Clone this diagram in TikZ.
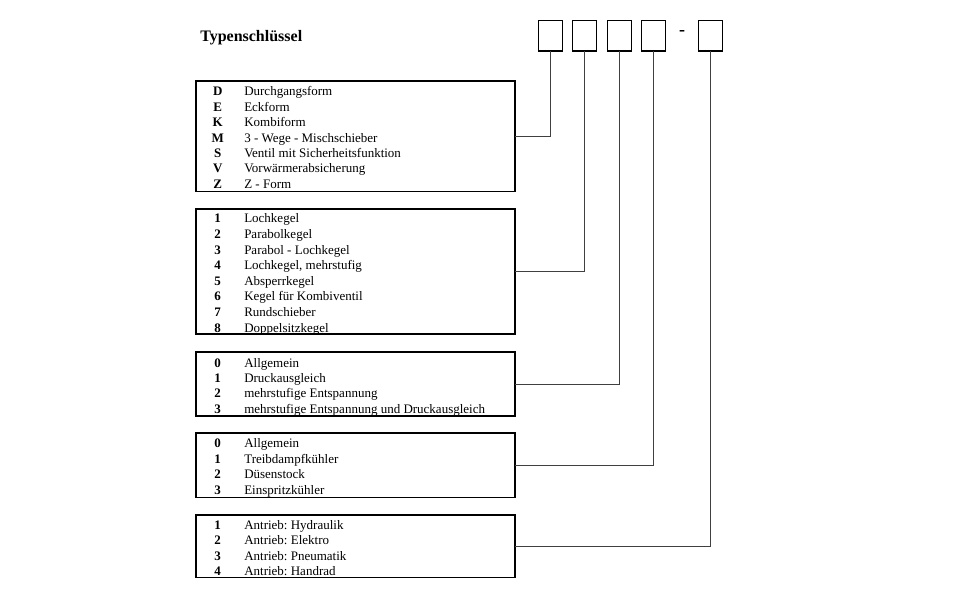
\documentclass[tikz,border=0pt]{standalone}
\usepackage{fontspec}
\setmainfont{Liberation Serif}
\frenchspacing
\begin{document}
\begin{tikzpicture}[x=0.75pt,y=-0.75pt,
  listbox/.style={draw=black,line width=1pt,inner sep=0pt,outer sep=0pt,minimum width={319*0.75pt}},
  codebox/.style={draw=black,line width=1pt,inner sep=0pt,outer sep=0pt,minimum width={24*0.75pt},minimum height={30.5*0.75pt}},
  keytxt/.style={anchor=base,inner sep=0pt,font=\fontsize{9.75pt}{11pt}\selectfont\bfseries},
  itemtxt/.style={anchor=base west,inner sep=0pt,font=\fontsize{9.75pt}{11pt}\selectfont},
  link/.style={draw=black!75,line width=0.6pt}]
\useasboundingbox[fill=white] (0,0) rectangle (960,596);

\node[anchor=base west,inner sep=0pt,font=\fontsize{12pt}{14pt}\selectfont\bfseries] (title) at (200,41) {Typenschlüssel};

% code boxes
\node[codebox] (c1) at (550.5,35.75) {};
\node[codebox] (c2) at (584.7,35.75) {};
\node[codebox] (c3) at (619.3,35.75) {};
\node[codebox] (c4) at (653.5,35.75) {};
\node[anchor=base,inner sep=0pt,font=\fontsize{13.5pt}{15pt}\selectfont\bfseries] (dash) at (682,36) {-};
\node[codebox] (c5) at (710.5,35.75) {};

% list boxes
\node[listbox,minimum height={110.7*0.75pt}] (b1) at (355.5,136.4) {};
\node[listbox,minimum height={125*0.75pt}] (b2) at (355.5,271.5) {};
\node[listbox,minimum height={64*0.75pt}] (b3) at (355.5,384) {};
\node[listbox,minimum height={64.7*0.75pt}] (b4) at (355.5,465.4) {};
\node[listbox,minimum height={62.7*0.75pt}] (b5) at (355.5,546.4) {};

% entries
\foreach [count=\i] \k/\t in {D/Durchgangsform,E/Eckform,K/Kombiform,M/3 - Wege - Mischschieber,S/Ventil mit Sicherheitsfunktion,V/Vorwärmerabsicherung,Z/Z - Form}{
  \node[keytxt] (k1-\i) at (217.7,{91.5+15.4*(\i-1)+4.3}) {\k};
  \node[itemtxt] (t1-\i) at (244,{91.5+15.4*(\i-1)+4.3}) {\t};
}
\foreach [count=\i] \k/\t in {1/Lochkegel,2/Parabolkegel,3/Parabol - Lochkegel,4/{Lochkegel, mehrstufig},5/Absperrkegel,6/Kegel für Kombiventil,7/Rundschieber,8/Doppelsitzkegel}{
  \node[keytxt] (k2-\i) at (217.7,{218.5+15.6*(\i-1)+4.3}) {\k};
  \node[itemtxt] (t2-\i) at (244,{218.5+15.6*(\i-1)+4.3}) {\t};
}
\foreach [count=\i] \k/\t in {0/Allgemein,1/Druckausgleich,2/mehrstufige Entspannung,3/mehrstufige Entspannung und Druckausgleich}{
  \node[keytxt] (k3-\i) at (217.7,{362.8+15.3*(\i-1)+4.3}) {\k};
  \node[itemtxt] (t3-\i) at (244,{362.8+15.3*(\i-1)+4.3}) {\t};
}
\foreach [count=\i] \k/\t in {0/Allgemein,1/Treibdampfkühler,2/Düsenstock,3/Einspritzkühler}{
  \node[keytxt] (k4-\i) at (217.7,{443.3+15.6*(\i-1)+4.3}) {\k};
  \node[itemtxt] (t4-\i) at (244,{443.3+15.6*(\i-1)+4.3}) {\t};
}
\foreach [count=\i] \k/\t in {1/Antrieb: Hydraulik,2/Antrieb: Elektro,3/Antrieb: Pneumatik,4/Antrieb: Handrad}{
  \node[keytxt] (k5-\i) at (217.7,{525+15.4*(\i-1)+4.3}) {\k};
  \node[itemtxt] (t5-\i) at (244,{525+15.4*(\i-1)+4.3}) {\t};
}

% connectors
\draw[link] (b1.east) -| (c1.south);
\draw[link] (b2.east) -| (c2.south);
\draw[link] (b3.east) -| (c3.south);
\draw[link] (b4.east) -| (c4.south);
\draw[link] (b5.east) -| (c5.south);
\end{tikzpicture}
\end{document}
